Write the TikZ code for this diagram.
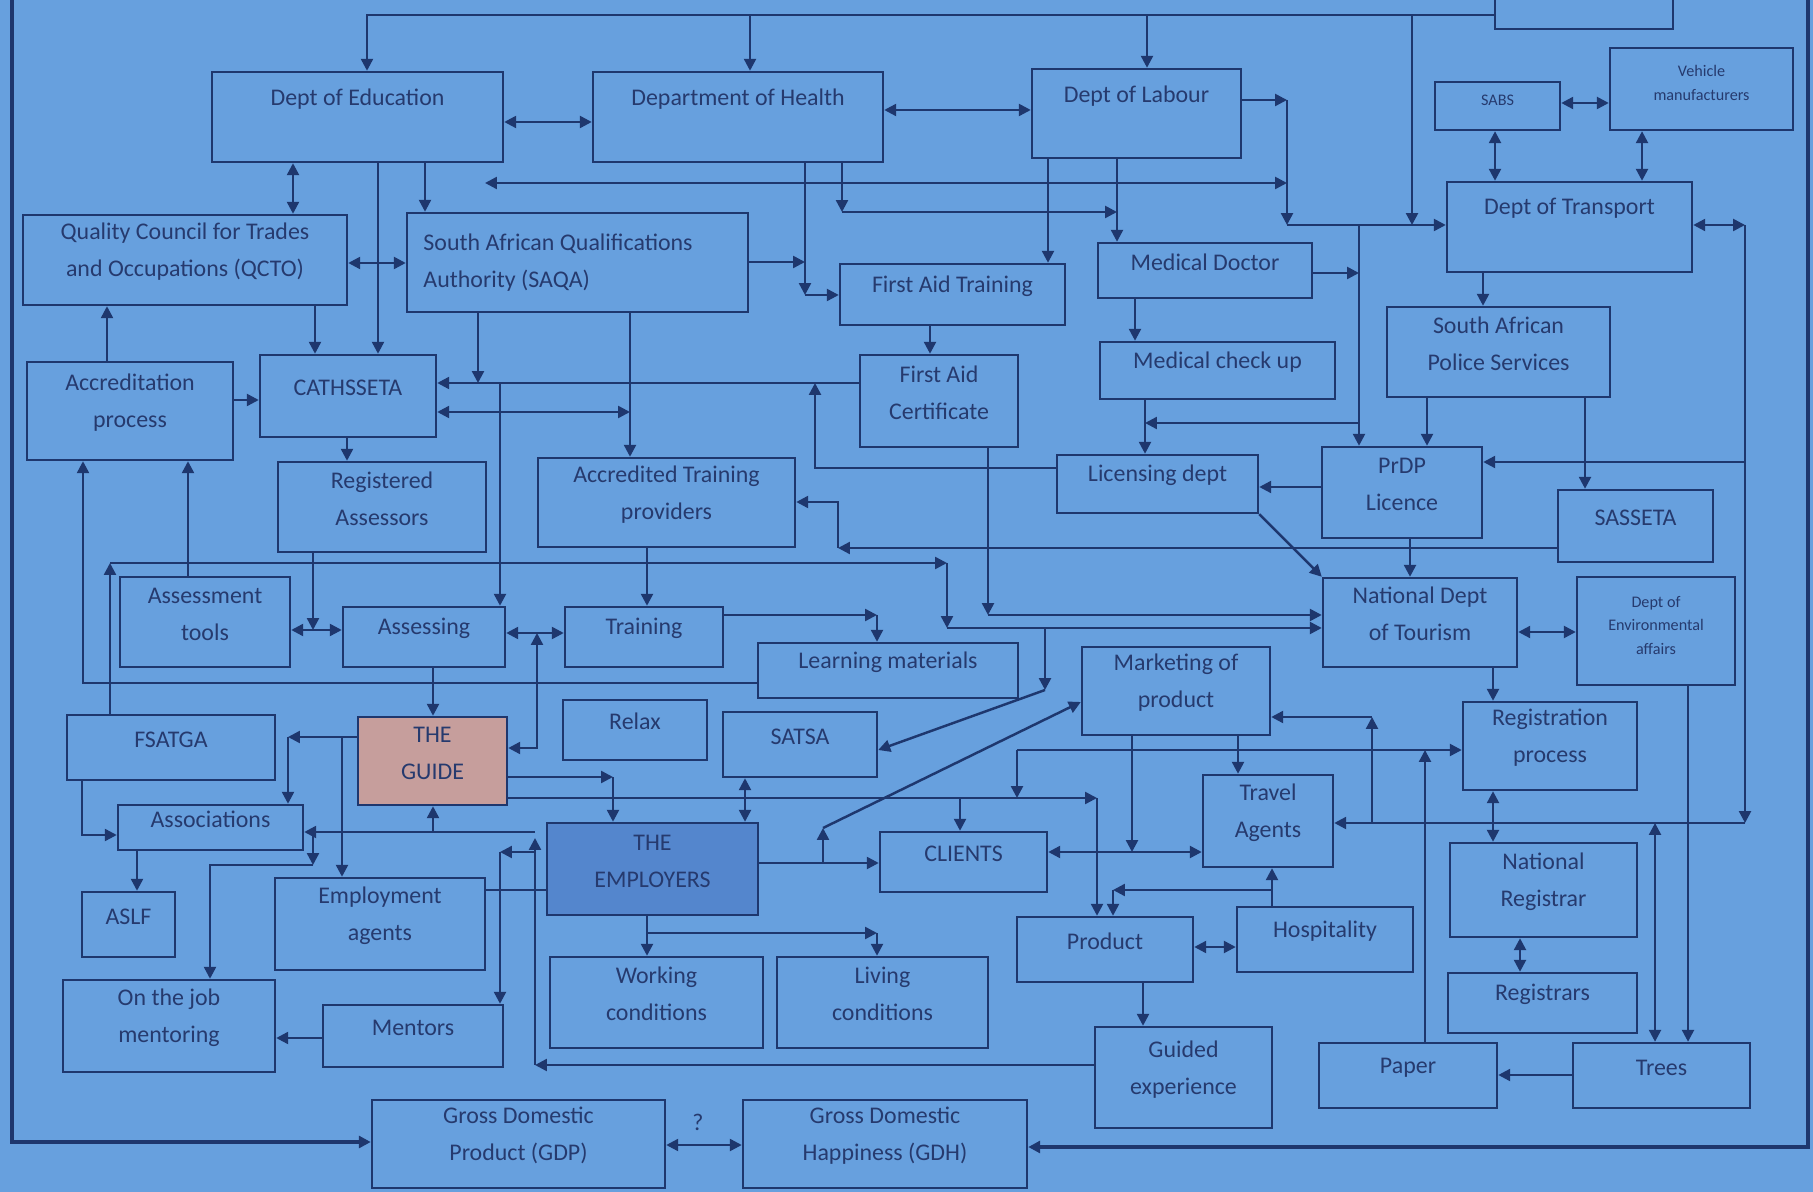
\documentclass[tikz,border=0pt]{standalone}
\usepackage{fontspec}
\setmainfont{Carlito}
\usetikzlibrary{fit,arrows.meta}
\definecolor{bgc}{RGB}{103,160,222}
\definecolor{lnc}{RGB}{30,55,110}
\definecolor{txc}{RGB}{38,58,110}
\definecolor{guidec}{RGB}{198,158,156}
\definecolor{empc}{RGB}{84,134,205}
\newcommand\mainf{\fontsize{6.8}{10.5}\selectfont}
\newcommand\smallf{\fontsize{4.6}{6.8}\selectfont}
\newcommand\bx[7][]{\node[box,fit={(#3,#4)(#5,#6)},#1] (#2) {#7};}
\begin{document}
\begin{tikzpicture}[x=0.01cm,y=-0.01cm,
 box/.style={draw=lnc,line width=0.7pt,inner sep=0pt,align=center,font=\mainf,text=txc},
 ln/.style={draw=lnc,line width=0.7pt},
 frame/.style={draw=lnc,line width=1.1pt},
 arr/.style={-{Triangle[length=3.4pt,width=3.4pt]}},
 darr/.style={{Triangle[length=3.4pt,width=3.4pt]}-{Triangle[length=3.4pt,width=3.4pt]}},
 toptext/.style={label={[anchor=north,inner sep=0pt,yshift=-0.17cm,font=\mainf,text=txc]north:#1}},
 lefttext/.style={label={[anchor=west,align=left,inner sep=0pt,xshift=0.17cm,font=\mainf,text=txc]west:#1}}]
\useasboundingbox (0,0) rectangle (1813,1192);
\fill[bgc] (0,0) rectangle (1813,1192);
\clip (0,0) rectangle (1813,1192);

% ---------- boxes ----------
\bx{topbox}{1495}{-30}{1673}{29}{}
\bx[toptext={Dept of Education}]{edu}{212}{72}{503}{162}{}
\bx[toptext={Department of Health}]{health}{593}{72}{883}{162}{}
\bx[toptext={Dept of Labour}]{labour}{1032}{69}{1241}{158}{}
\bx[font=\smallf]{sabs}{1435}{82}{1560}{130}{SABS}
\bx[font=\smallf]{vm}{1610}{48}{1793}{130}{Vehicle\\manufacturers}
\bx[toptext={Dept of Transport}]{transport}{1447}{182}{1692}{272}{}
\bx{qcto}{23}{215}{347}{305}{Quality Council for Trades\\and Occupations (QCTO)}
\bx[lefttext={South African Qualifications\\Authority (SAQA)}]{saqa}{407}{213}{748}{312}{}
\bx{fat}{840}{264}{1065}{325}{First Aid Training}
\bx{md}{1098}{243}{1312}{298}{Medical Doctor}
\bx{mcu}{1100}{342}{1335}{399}{Medical check up}
\bx{saps}{1387}{307}{1610}{397}{South African\\Police Services}
\bx{accr}{27}{362}{233}{460}{Accreditation\\process}
\bx{cath}{260}{355}{436}{437}{CATHSSETA\\[14pt]}
\bx{fac}{860}{355}{1018}{447}{First Aid\\Certificate}
\bx{lic}{1057}{455}{1258}{513}{Licensing dept}
\bx{prdp}{1322}{447}{1482}{538}{PrDP\\Licence}
\bx{sasseta}{1558}{490}{1713}{562}{SASSETA}
\bx{ra}{278}{462}{486}{552}{Registered\\Assessors}
\bx{atp}{538}{458}{795}{547}{Accredited Training\\providers}
\bx{tools}{120}{577}{290}{667}{Assessment\\tools}
\bx{assess}{343}{607}{505}{667}{Assessing}
\bx{training}{565}{607}{723}{667}{Training}
\bx{lm}{758}{643}{1018}{698}{Learning materials}
\bx{ndt}{1323}{578}{1517}{667}{National Dept\\of Tourism}
\bx[font=\smallf]{dea}{1577}{577}{1735}{685}{Dept of\\Environmental\\affairs}
\bx{fsatga}{67}{715}{275}{780}{FSATGA}
\bx[fill=guidec]{guide}{358}{717}{507}{805}{THE\\GUIDE}
\bx{relax}{563}{700}{707}{760}{Relax}
\bx{satsa}{723}{712}{877}{777}{SATSA}
\bx{mkt}{1082}{647}{1270}{735}{Marketing of\\product}
\bx{reg}{1463}{702}{1637}{790}{Registration\\process}
\bx{assoc}{118}{805}{303}{850}{Associations}
\bx{aslf}{82}{892}{175}{957}{ASLF}
\bx{ea}{275}{878}{485}{970}{Employment\\agents}
\bx[fill=empc]{emp}{547}{823}{758}{915}{THE\\EMPLOYERS}
\bx{clients}{880}{832}{1047}{892}{CLIENTS}
\bx{ta}{1203}{775}{1333}{867}{Travel\\Agents}
\bx{product}{1017}{917}{1193}{982}{Product}
\bx{hosp}{1237}{907}{1413}{972}{Hospitality}
\bx{nr}{1450}{843}{1637}{937}{National\\Registrar}
\bx{rgs}{1448}{973}{1637}{1033}{Registrars}
\bx{wc}{550}{957}{763}{1048}{Working\\conditions}
\bx{lc}{777}{957}{988}{1048}{Living\\conditions}
\bx{ojm}{63}{980}{275}{1072}{On the job\\mentoring}
\bx{mentors}{323}{1005}{503}{1067}{Mentors}
\bx{ge}{1095}{1027}{1272}{1128}{Guided\\experience}
\bx{paper}{1319}{1043}{1497}{1108}{Paper}
\bx{trees}{1573}{1043}{1750}{1108}{Trees}
\bx{gdp}{372}{1100}{665}{1188}{Gross Domestic\\Product (GDP)}
\bx{gdh}{743}{1100}{1027}{1188}{Gross Domestic\\Happiness (GDH)}
\node[font=\mainf,text=txc,inner sep=0pt] (qm) at (698,1122) {?};

% ---------- junction coordinates ----------
\coordinate (jTop) at (367,15);
\coordinate (jH) at (750,15);
\coordinate (jLb) at (1147,15);
\coordinate (jT) at (1412,15);
\coordinate (jT2) at (1412,225);
\coordinate (jL1) at (1287,100);
\coordinate (jL2) at (1287,225);
\coordinate (jL3) at (1287,183);
\coordinate (free1) at (485,183);
\coordinate (jS1) at (478,383);
\coordinate (jA1) at (500,383);
\coordinate (jC1) at (630,412);
\coordinate (jS2) at (805,262);
\coordinate (jS3) at (805,295);
\coordinate (jH2) at (842,212);
\coordinate (jM1) at (1117,212);
\coordinate (jP1) at (1359,225);
\coordinate (jP2) at (1359,273);
\coordinate (jP3) at (1359,423);
\coordinate (jMc) at (1145,423);
\coordinate (jR1) at (1745,225);
\coordinate (jR2) at (1745,462);
\coordinate (jR3) at (1745,823);
\coordinate (jR4) at (1372,823);
\coordinate (jR5) at (1372,717);
\coordinate (jR6) at (1655,823);
\coordinate (jLi1) at (815,468);
\coordinate (jLi2) at (815,383);
\coordinate (jSa1) at (838,548);
\coordinate (jSa2) at (838,502);
\coordinate (jF1) at (988,615);
\coordinate (jFs1) at (110,563);
\coordinate (jFs2) at (947,563);
\coordinate (jFs3) at (947,628);
\coordinate (jD1) at (1045,628);
\coordinate (jD2) at (1045,690);
\coordinate (jLm) at (83,683);
\coordinate (jRa) at (313,630);
\coordinate (jG1) at (537,748);
\coordinate (jG2) at (537,633);
\coordinate (jTr) at (877,615);
\coordinate (jG3) at (288,737);
\coordinate (jG4) at (342,737);
\coordinate (jFa) at (82,835);
\coordinate (jG5) at (613,777);
\coordinate (jG6) at (1097,798);
\coordinate (jC2) at (960,798);
\coordinate (jRg1) at (1017,750);
\coordinate (jRg2) at (1017,798);
\coordinate (jPa) at (1425,750);
\coordinate (jE1) at (823,863);
\coordinate (jE2) at (823,828);
\coordinate (jE3) at (647,933);
\coordinate (jE4) at (877,933);
\coordinate (jGe1) at (535,1065);
\coordinate (jGe2) at (535,832);
\coordinate (jGe3) at (433,832);
\coordinate (jGe4) at (313,832);
\coordinate (jGe5) at (313,865);
\coordinate (jGe6) at (210,865);
\coordinate (jGe7) at (535,852);
\coordinate (jGe8) at (500,852);
\coordinate (jM2) at (1132,852);
\coordinate (jHo1) at (1272,890);
\coordinate (jHo2) at (1113,890);
\coordinate (jB1) at (12,1142);
\coordinate (jB2) at (1808,1147);

% ---------- frame ----------
\draw[frame,arr] (12,-10) -- (jB1) -- (gdp.west |- jB1);
\draw[frame,arr] (1808,-10) -- (jB2) -- (gdh.east |- jB2);
\draw[ln,darr] (gdp.east |- 0,1145) -- (gdh.west |- 0,1145);

% ---------- top ----------
\draw[ln,arr] (topbox.west |- jTop) -- (jTop) -- (edu.north -| jTop);
\draw[ln,arr] (jH) -- (health.north -| jH);
\draw[ln,arr] (jLb) -- (labour.north -| jLb);
\draw[ln,arr] (jT) -- (jT2);
\draw[ln,arr] (labour.east |- jL1) -- (jL1);
\draw[ln,arr] (jL1) -- (jL2);
\draw[ln,arr] (jL2) -- (transport.west |- jL2);
\draw[ln,darr] (edu.east |- 0,122) -- (health.west |- 0,122);
\draw[ln,darr] (health.east |- 0,110) -- (labour.west |- 0,110);
\draw[ln,darr] (free1) -- (jL3);
\draw[ln,darr] (edu.south -| 293,0) -- (qcto.north -| 293,0);
\draw[ln,arr] (edu.south -| 378,0) -- (cath.north -| 378,0);
\draw[ln,arr] (edu.south -| 425,0) -- (saqa.north -| 425,0);
\draw[ln,darr] (qcto.east |- 0,263) -- (saqa.west |- 0,263);
\draw[ln,arr] (qcto.south -| 315,0) -- (cath.north -| 315,0);
\draw[ln,arr] (accr.north -| 107,0) -- (qcto.south -| 107,0);
\draw[ln,arr] (accr.east |- 0,400) -- (cath.west |- 0,400);
\draw[ln,arr] (cath.south -| 347,0) -- (ra.north -| 347,0);
\draw[ln,arr] (fac.west |- jS1) -- (cath.east |- jS1);
\draw[ln,arr] (saqa.south -| jS1) -- (jS1);
\draw[ln,arr] (jA1) -- (assess.north -| jA1);
\draw[ln,darr] (cath.east |- jC1) -- (jC1);
\draw[ln,arr] (saqa.south -| jC1) -- (atp.north -| jC1);
\draw[ln,arr] (saqa.east |- jS2) -- (jS2);
\draw[ln,arr] (health.south -| jS2) -- (jS3);
\draw[ln,arr] (jS3) -- (fat.west |- jS3);
\draw[ln,arr] (health.south -| jH2) -- (jH2);
\draw[ln,arr] (jH2) -- (jM1);
\draw[ln,arr] (labour.south -| 1048,0) -- (fat.north -| 1048,0);
\draw[ln,arr] (labour.south -| jM1) -- (md.north -| jM1);
\draw[ln,arr] (fat.south -| 930,0) -- (fac.north -| 930,0);
\draw[ln,arr] (md.south -| 1135,0) -- (mcu.north -| 1135,0);
\draw[ln,arr] (md.east |- jP2) -- (jP2);
\draw[ln,arr] (jP1) -- (prdp.north -| jP1);
\draw[ln,arr] (jP3) -- (jMc);
\draw[ln,arr] (mcu.south -| jMc) -- (lic.north -| jMc);

% ---------- right side ----------
\draw[ln,darr] (transport.east |- jR1) -- (jR1);
\draw[ln,arr] (jR1) -- (jR3);
\draw[ln,arr] (jR2) -- (prdp.east |- jR2);
\draw[ln,arr] (jR3) -- (ta.east |- jR3);
\draw[ln,arr] (jR4) -- (jR5);
\draw[ln,arr] (jR5) -- (mkt.east |- jR5);
\draw[ln,darr] (sabs.south -| 1495,0) -- (transport.north -| 1495,0);
\draw[ln,darr] (vm.south -| 1642,0) -- (transport.north -| 1642,0);
\draw[ln,darr] (sabs.east |- 0,103) -- (vm.west |- 0,103);
\draw[ln,arr] (transport.south -| 1483,0) -- (saps.north -| 1483,0);
\draw[ln,arr] (saps.south -| 1427,0) -- (prdp.north -| 1427,0);
\draw[ln,arr] (saps.south -| 1585,0) -- (sasseta.north -| 1585,0);
\draw[ln,arr] (prdp.west |- 0,487) -- (lic.east |- 0,487);
\draw[ln,arr] (lic.south east) -- (ndt.north west);
\draw[ln,arr] (prdp.south -| 1410,0) -- (ndt.north -| 1410,0);
\draw[ln,darr] (ndt.east |- 0,632) -- (dea.west |- 0,632);
\draw[ln,arr] (ndt.south -| 1493,0) -- (reg.north -| 1493,0);
\draw[ln,darr] (reg.south -| 1493,0) -- (nr.north -| 1493,0);
\draw[ln,darr] (nr.south -| 1520,0) -- (rgs.north -| 1520,0);
\draw[ln,darr] (jR6) -- (trees.north -| jR6);
\draw[ln,arr] (dea.south -| 1688,0) -- (trees.north -| 1688,0);
\draw[ln,arr] (trees.west |- 0,1075) -- (paper.east |- 0,1075);
\draw[ln,arr] (paper.north -| jPa) -- (jPa);

% ---------- middle ----------
\draw[ln,arr] (lic.west |- jLi1) -- (jLi1) -- (jLi2);
\draw[ln,arr] (sasseta.west |- jSa1) -- (jSa1);
\draw[ln,arr] (jSa1) -- (jSa2) -- (atp.east |- jSa2);
\draw[ln,arr] (fac.south -| jF1) -- (jF1);
\draw[ln,arr] (jF1) -- (ndt.west |- jF1);
\draw[ln,arr] (fsatga.north -| jFs1) -- (jFs1);
\draw[ln,arr] (jFs1) -- (jFs2);
\draw[ln,arr] (jFs2) -- (jFs3);
\draw[ln,arr] (jFs3) -- (ndt.west |- jFs3);
\draw[ln,arr] (jD1) -- (jD2);
\draw[ln,arr] (jD2) -- (satsa.east |- 0,750);
\draw[ln,arr] (lm.west |- jLm) -- (jLm) -- (accr.south -| jLm);
\draw[ln,arr] (tools.north -| 188,0) -- (accr.south -| 188,0);
\draw[ln,arr] (ra.south -| jRa) -- (jRa);
\draw[ln,darr] (tools.east |- jRa) -- (assess.west |- jRa);
\draw[ln,arr] (assess.south -| 433,0) -- (guide.north -| 433,0);
\draw[ln,darr] (assess.east |- jG2) -- (training.west |- jG2);
\draw[ln,darr] (guide.east |- jG1) -- (jG1) -- (jG2);
\draw[ln,arr] (atp.south -| 647,0) -- (training.north -| 647,0);
\draw[ln,arr] (training.east |- jTr) -- (jTr);
\draw[ln,arr] (jTr) -- (lm.north -| jTr);

% ---------- lower left ----------
\draw[ln,arr] (guide.west |- jG3) -- (jG3);
\draw[ln,arr] (jG3) -- (assoc.north -| jG3);
\draw[ln,arr] (jG4) -- (ea.north -| jG4);
\draw[ln,arr] (fsatga.south -| jFa) -- (jFa) -- (assoc.west |- jFa);
\draw[ln,arr] (assoc.south -| 137,0) -- (aslf.north -| 137,0);
\draw[ln,arr] (guide.east |- jG5) -- (jG5);
\draw[ln,arr] (jG5) -- (emp.north -| jG5);
\draw[ln,arr] (guide.east |- jG6) -- (jG6);
\draw[ln,arr] (jG6) -- (product.north -| jG6);
\draw[ln,arr] (jC2) -- (clients.north -| jC2);
\draw[ln,arr] (jRg1) -- (jRg2);
\draw[ln,arr] (jRg1) -- (reg.west |- jRg1);
\draw[ln,darr] (satsa.south -| 745,0) -- (emp.north -| 745,0);
\draw[ln,arr] (emp.east |- jE1) -- (clients.west |- jE1);
\draw[ln,arr] (jE1) -- (jE2);
\draw[ln,arr] (jE2) -- (mkt.west |- 0,702);
\draw[ln,arr] (emp.south -| jE3) -- (wc.north -| jE3);
\draw[ln,arr] (jE3) -- (jE4);
\draw[ln,arr] (jE4) -- (lc.north -| jE4);
\draw[ln] (ea.east |- 0,890) -- (emp.west |- 0,890);
\draw[ln,arr] (ge.west |- jGe1) -- (jGe1);
\draw[ln,arr] (jGe1) -- (535,838);
\draw[ln,arr] (jGe2) -- (assoc.east |- jGe2);
\draw[ln,arr] (jGe3) -- (guide.south -| jGe3);
\draw[ln,arr] (jGe4) -- (jGe5);
\draw[ln,arr] (jGe5) -- (jGe6) -- (ojm.north -| jGe6);
\draw[ln,arr] (jGe7) -- (jGe8);
\draw[ln,arr] (jGe8) -- (mentors.north -| jGe8);
\draw[ln,arr] (mentors.west |- 0,1038) -- (ojm.east |- 0,1038);

% ---------- lower right ----------
\draw[ln,arr] (mkt.south -| jM2) -- (jM2);
\draw[ln,darr] (clients.east |- jM2) -- (ta.west |- jM2);
\draw[ln,arr] (mkt.south -| 1238,0) -- (ta.north -| 1238,0);
\draw[ln,arr] (hosp.north -| jHo1) -- (ta.south -| jHo1);
\draw[ln,arr] (jHo1) -- (jHo2);
\draw[ln,arr] (jHo2) -- (product.north -| jHo2);
\draw[ln,darr] (product.east |- 0,947) -- (hosp.west |- 0,947);
\draw[ln,arr] (product.south -| 1143,0) -- (ge.north -| 1143,0);
\end{tikzpicture}
\end{document}
